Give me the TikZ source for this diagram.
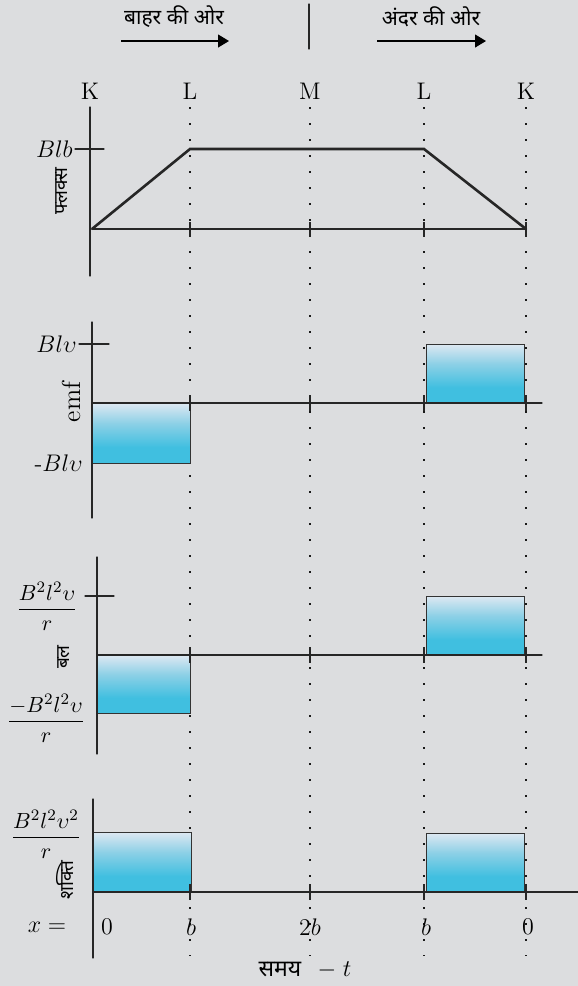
\documentclass[tikz,border=0pt]{standalone}
\usepackage{fontspec}
\newfontfamily\hindi[Script=Devanagari]{Noto Sans}
\usepackage{amsmath}
\usetikzlibrary{arrows.meta,calc}
\usepackage{tkz-euclide}

\definecolor{bggray}{RGB}{220,221,223}
\definecolor{boxtop}{RGB}{222,232,242}
\definecolor{boxmid}{RGB}{140,208,230}
\definecolor{boxbot}{RGB}{64,191,224}
\pgfdeclareverticalshading{boxshade}{100bp}{color(0bp)=(boxbot); color(25bp)=(boxbot); color(38bp)=(boxbot); color(58bp)=(boxmid); color(75bp)=(boxtop); color(100bp)=(boxtop)}

\tikzset{
  axisline/.style={line width=0.6pt,color=black!85},
  tickline/.style={line width=1.2pt,color=black!85},
  fluxline/.style={line width=1.3pt,color=black!85},
  dotline/.style={line width=1.2pt,dash pattern=on 1.2pt off 6.8pt,color=black!90},
  dirarrow/.style={line width=0.6pt,-{Triangle[length=5.5pt,width=6.5pt]}},
  pulse/.style={draw=black!80,line width=0.5pt,shading=boxshade},
  hlabel/.style={font=\hindi\fontsize{10.5}{12}\selectfont,inner sep=0pt},
  vlabel/.style={font=\hindi\fontsize{9.5}{11}\selectfont,rotate=90,inner sep=0pt},
  poslabel/.style={font=\fontsize{12}{14}\selectfont,inner sep=0pt},
  vallabel/.style={font=\fontsize{12}{14}\selectfont,inner sep=1pt},
  fraclabel/.style={font=\fontsize{11}{13}\selectfont,inner sep=0pt}
}

\begin{document}
\begin{tikzpicture}[x=0.5pt,y=-0.5pt]
\fill[bggray] (0,0) rectangle (578,986);
\useasboundingbox (0,0) rectangle (578,986);

% direction of motion
\node[hlabel] (outw) at (174,17) {बाहर की ओर};
\node[hlabel] (inw) at (431,17) {अंदर की ओर};
\tkzDefPoints{121/41/A1,229/41/A2,377/41/A3,486/41/A4,309/4/D1,309/49/D2}
\draw[dirarrow] (A1) -- (A2);
\draw[dirarrow] (A3) -- (A4);
\tkzDrawSegments[axisline](D1,D2)

% positions of the loop
\node[poslabel] (k1) at (90,91) {K};
\node[poslabel] (l1) at (190,91) {L};
\node[poslabel] (m) at (310,91) {M};
\node[poslabel] (l2) at (424,91) {L};
\node[poslabel] (k2) at (526,91) {K};

\foreach \x in {190,310,424,526}
  \draw[dotline] (\x,107) -- (\x,956);

% flux
\tkzDefPoints{90/107/P1,90/276/P2,75/149/T1,104/149/T2}
\tkzDrawSegments[axisline](P1,P2 T1,T2)
\node[vallabel,anchor=east] (blb) at (T1) {$Blb$};
\node[vlabel] (flux) at (62,191) {फ्लक्स};
\tkzDefPoints{92/229/F0,190/149/F1,424/149/F2,526/229/F3}
\draw[fluxline,line join=miter] (F0) -- (F1) -- (F2) -- (F3);
\tkzDrawSegments[fluxline](F0,F3)
\foreach \x in {190,310,424,526}
  \draw[tickline] (\x,222) -- (\x,237);

% emf
\draw[pulse] (92,403) rectangle (190,463);
\draw[pulse] (426,344) rectangle (524,403);
\tkzDefPoints{92/322/E1,92/518/E2,79/344/E3,109/344/E4,92/403/E5,542/403/E6}
\tkzDrawSegments[axisline](E1,E2 E3,E4 E5,E6)
\node[vallabel,anchor=east] (blv) at (E3) {$Bl\upsilon$};
\node[vallabel,anchor=east] (mblv) at (85,463) {-$Bl\upsilon$};
\node[font=\fontsize{13}{15}\selectfont,rotate=90,inner sep=0pt] (emf) at (71,402) {emf};
\foreach \x in {190,310,424,526}
  \draw[tickline] (\x,395) -- (\x,411);

% force
\draw[pulse] (97,655) rectangle (190,713);
\draw[pulse] (426,596) rectangle (524,655);
\tkzDefPoints{97/557/G1,97/754/G2,85/596/G3,114/596/G4,97/655/G5,542/655/G6}
\tkzDrawSegments[axisline](G1,G2 G3,G4 G5,G6)
\node[fraclabel] (fpos) at (47,606) {$\dfrac{B^2l^2\upsilon}{r}$};
\node[fraclabel] (fneg) at (46,718) {$\dfrac{-B^2l^2\upsilon}{r}$};
\node[vlabel] (force) at (64,657) {बल};
\foreach \x in {190,310,424,526}
  \draw[tickline] (\x,647) -- (\x,663);

% power
\draw[pulse] (93,832) rectangle (191,892);
\draw[pulse] (426,833) rectangle (524,892);
\tkzDefPoints{93/799/H1,93/958/H2,93/892/H3,578/892/H4}
\tkzDrawSegments[axisline](H1,H2 H3,H4)
\node[fraclabel] (pw) at (46,834) {$\dfrac{B^2l^2\upsilon^2}{r}$};
\node[vlabel] (power) at (65,880) {शक्ति};
\foreach \x in {190,310,424,526}
  \draw[tickline] (\x,884) -- (\x,900);

% position x and time
\node[vallabel] (xeq) at (47,927) {$x =$};
\node[vallabel] (x1) at (107,927) {0};
\node[vallabel] (x2) at (191,927) {$b$};
\node[vallabel] (x3) at (310,927) {2$b$};
\node[vallabel] (x4) at (426,927) {$b$};
\node[vallabel] (x5) at (528,927) {0};
\node[font=\hindi\fontsize{11.5}{13}\selectfont,inner sep=0pt] (time) at (305,970) {समय\, {\fontsize{13}{15}\selectfont$\;-\;t$}};
\end{tikzpicture}
\end{document}
